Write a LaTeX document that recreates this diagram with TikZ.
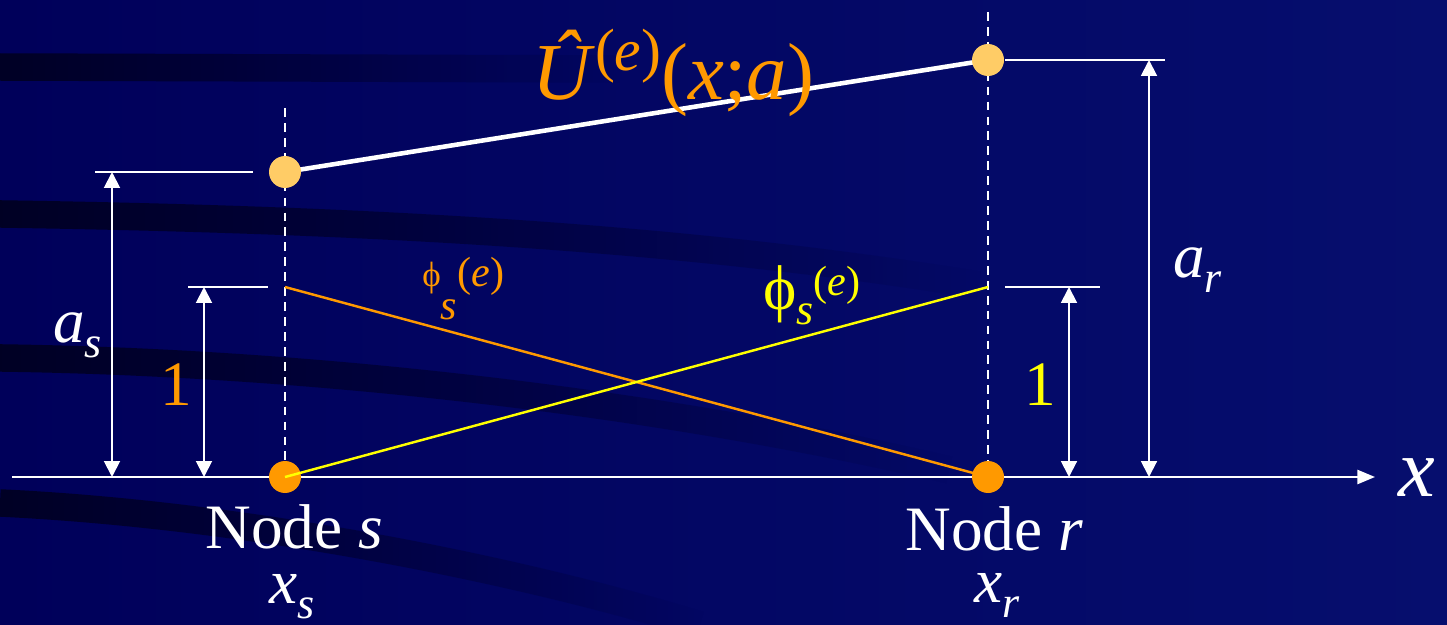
\documentclass[tikz,border=0pt]{standalone}
\usepackage{fontspec}
\setmainfont{Liberation Serif}
\usetikzlibrary{arrows.meta,fadings}

\definecolor{slidebg}{RGB}{0,0,90}
\definecolor{slidebgr}{RGB}{6,14,110}
\definecolor{bandcol}{RGB}{0,0,36}
\definecolor{nodeorange}{RGB}{255,153,0}
\definecolor{nodelight}{RGB}{255,204,102}
\definecolor{phiyellow}{RGB}{255,255,0}

\newcommand{\lowsub}[1]{\raisebox{-9pt}{\fontsize{25}{25}\selectfont\itshape #1}}

\begin{document}
\begin{tikzpicture}[x=0.02cm, y=-0.02cm,
        dot/.style={circle, inner sep=0pt, minimum size=0.64cm, fill=nodeorange},
        lab/.style={inner sep=0pt, anchor=base west, text=white, font=\fontsize{36}{40}\selectfont},
        tick/.style={white, line width=1pt},
        dim/.style={{Triangle[width=9pt,length=9pt]}-{Triangle[width=9pt,length=9pt]}, white, line width=1.1pt},
        guide/.style={white, dash pattern=on 5pt off 3.5pt, line width=1.1pt},
        band/.style={bandcol, line width=0.55cm, path fading=east}
    ]

    % Background
    \useasboundingbox (0,0) rectangle (1447,625);
    \shade[left color=slidebg, right color=slidebgr] (0,0) rectangle (1447,625);
    \draw[band] (0,67) -- (620,69);
    \draw[band] (0,214) .. controls (400,220) and (700,240) .. (980,285);
    \draw[band] (0,358) .. controls (300,362) and (650,400) .. (950,470);
    \draw[band] (0,503) .. controls (250,515) and (520,570) .. (700,625);

    % Positions
    \coordinate (xs) at (285,477);
    \coordinate (xr) at (988,477);
    \coordinate (as) at (285,172);
    \coordinate (ar) at (988,60);
    \coordinate (ones) at (285,287);
    \coordinate (oner) at (988,287);
    \coordinate (topl) at (285,108);
    \coordinate (topr) at (988,12);
    \coordinate (axl) at (12,477);
    \coordinate (axr) at (1375,477);

    % x axis
    \draw[white, line width=1.2pt, -{Triangle[width=8pt,length=10pt]}] (axl) -- (axr);

    % Dashed guides
    \draw[guide] (topl) -- (xs);
    \draw[guide] (topr) -- (xr);

    % Ticks
    \coordinate (ta1) at (95,172);  \coordinate (ta2) at (253,172);
    \coordinate (tb1) at (188,287); \coordinate (tb2) at (268,287);
    \coordinate (tc1) at (1005,287); \coordinate (tc2) at (1100,287);
    \coordinate (td1) at (1005,60); \coordinate (td2) at (1165,60);
    \draw[tick] (ta1) -- (ta2);
    \draw[tick] (tb1) -- (tb2);
    \draw[tick] (tc1) -- (tc2);
    \draw[tick] (td1) -- (td2);

    % Dimension arrows
    \coordinate (da) at (112,172);
    \coordinate (db) at (204,287);
    \coordinate (dc) at (1069,287);
    \coordinate (dd) at (1149,60);
    \draw[dim] (da) -- (da |- xs);
    \draw[dim] (db) -- (db |- xs);
    \draw[dim] (dc) -- (dc |- xs);
    \draw[dim] (dd) -- (dd |- xs);

    % Approximation
    \draw[white, line width=2.6pt] (as) -- (ar);

    % Dots
    \node[dot] (ns) at (xs) {};
    \node[dot] (nr) at (xr) {};
    \node[dot, fill=nodelight] (us) at (as) {};
    \node[dot, fill=nodelight] (ur) at (ar) {};

    % Shape functions
    \draw[nodeorange, line width=1.4pt] (ones) -- (nr.center);
    \draw[phiyellow, line width=1.4pt] (ns.center) -- (oner);

    % Labels
    \node[lab] (nodes) at (205,548) {Node \textit{s}};
    \node[lab] (noder) at (905,550) {Node \textit{r}};
    \node[lab] (xslab) at (269,603) {\textit{x}\lowsub{s}};
    \node[lab] (xrlab) at (974,602) {\textit{x}\lowsub{r}};
    \node[lab] (aslab) at (53,342) {\textit{a}\lowsub{s}};
    \node[lab] (arlab) at (1173,277) {\textit{a}\lowsub{r}};
    \node[lab, text=nodeorange, anchor=base] (onel) at (176,405) {1};
    \node[lab, text=phiyellow, anchor=base] (oner) at (1040,405) {1};
    \node[lab, font=\fontsize{47}{50}\selectfont] (xlab) at (1398,496) {\textit{x}};
    \node[lab, text=phiyellow] (phir) at (763,309)
        {ϕ\lowsub{s}\raisebox{7.5pt}{\fontsize{24}{24}\selectfont(\textit{e})}};
    \node[lab, text=nodeorange] (phis) at (422,286)
        {{\fontsize{20}{20}\selectfont ϕ}\raisebox{-19pt}{\fontsize{24}{24}\selectfont\itshape s}{\fontsize{24}{24}\selectfont(\textit{e})}};
    \node[lab, text=nodeorange, font=\fontsize{46}{50}\selectfont] (ulab) at (532,100)
        {\textit{Û}\raisebox{17pt}{\fontsize{34}{34}\selectfont(\textit{e})}(\textit{x};\textit{a})};

\end{tikzpicture}
\end{document}
